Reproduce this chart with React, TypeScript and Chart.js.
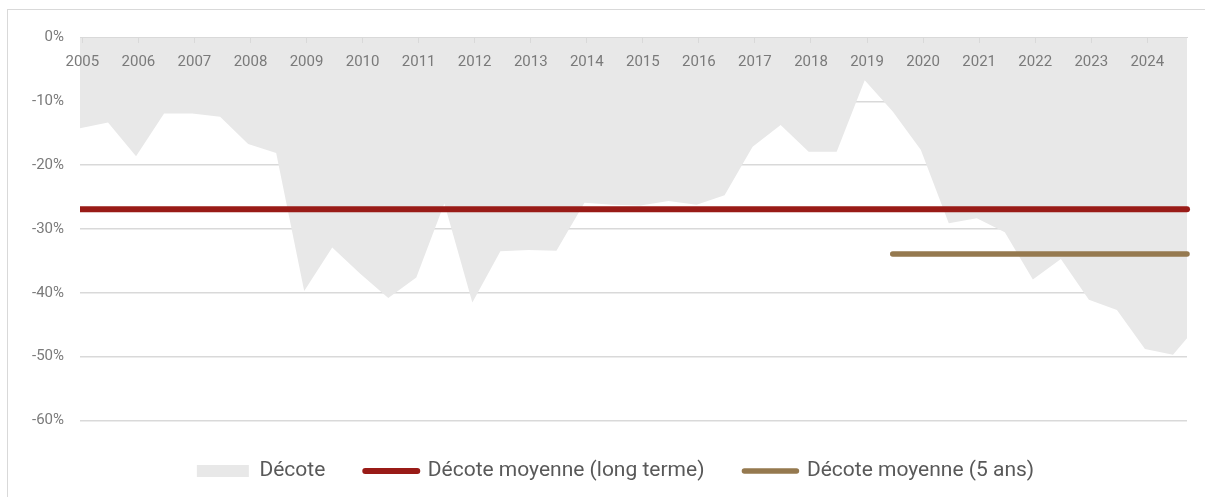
import React, { useEffect, useRef } from 'react';
import { Chart, registerables } from 'chart.js';

Chart.register(...registerables);

// Semi-annual observation dates (YYYY-MM)
const periods: string[] = [
  '2004-12',
  '2005-06', '2005-12', '2006-06', '2006-12', '2007-06', '2007-12',
  '2008-06', '2008-12', '2009-06', '2009-12', '2010-06', '2010-12',
  '2011-06', '2011-12', '2012-06', '2012-12', '2013-06', '2013-12',
  '2014-06', '2014-12', '2015-06', '2015-12', '2016-06', '2016-12',
  '2017-06', '2017-12', '2018-06', '2018-12', '2019-06', '2019-12',
  '2020-06', '2020-12', '2021-06', '2021-12', '2022-06', '2022-12',
  '2023-06', '2023-12', '2024-06', '2024-09',
];

// Décote (%)
const decote: number[] = [
  -14.2,
  -13.3, -18.6, -11.9, -11.9, -12.4, -16.7,
  -18.1, -39.7, -32.9, -37.0, -40.8, -37.6,
  -26.0, -41.5, -33.5, -33.3, -33.4, -25.9,
  -26.2, -26.3, -25.6, -26.2, -24.7, -17.1,
  -13.7, -17.9, -17.9, -6.7, -11.6, -17.6,
  -29.1, -28.3, -30.5, -37.9, -34.7, -41.1,
  -42.7, -48.8, -49.7, -47.1,
];

const avgLongTerm = -26.9;
const avgFiveYears = -33.9;
const fiveYearStart = '2019-06';

const seriesLabels = ['Décote', 'Décote moyenne (long terme)', 'Décote moyenne (5 ans)'];
const seriesColors = ['#e8e8e8', '#991b17', '#95794f'];

const yMin = -60;
const yMax = 0;
const yStep = 10;

const toYear = (p: string) => {
  const [y, m] = p.split('-').map(Number);
  return y + (m - 0.5) / 12;
};

const FONT = 'Roboto, "Liberation Sans", sans-serif';

// shifts the centred legend row to sit under the plot like the original
const legendShift = {
  id: 'legendShift',
  afterLayout(chart: any) {
    const l = chart.legend;
    if (l) {
      l.left += 18;
      l.right += 18;
    }
  },
};

export default function App() {
  const canvasRef = useRef<HTMLCanvasElement | null>(null);

  useEffect(() => {
    if (!canvasRef.current) return;
    const first = periods[0];
    const last = periods[periods.length - 1];

    const areaData = periods.map((p, i) => ({ x: toYear(p), y: decote[i] }));
    const longData = [
      { x: toYear(first), y: avgLongTerm },
      { x: toYear(last), y: avgLongTerm },
    ];
    const fiveData = [
      { x: toYear(fiveYearStart), y: avgFiveYears },
      { x: toYear(last), y: avgFiveYears },
    ];

    const chart = new Chart(canvasRef.current, {
      type: 'line',
      data: {
        datasets: [
          {
            label: seriesLabels[0],
            data: areaData,
            fill: 'origin',
            backgroundColor: seriesColors[0],
            borderColor: seriesColors[0],
            borderWidth: 0,
            pointRadius: 0,
            tension: 0,
            order: 3,
          },
          {
            label: seriesLabels[1],
            data: longData,
            fill: false,
            borderColor: seriesColors[1],
            backgroundColor: seriesColors[1],
            borderWidth: 6,
            borderCapStyle: 'round',
            pointRadius: 0,
            order: 1,
            clip: { left: 0, right: 5, top: 5, bottom: 5 },
          },
          {
            label: seriesLabels[2],
            data: fiveData,
            fill: false,
            borderColor: seriesColors[2],
            backgroundColor: seriesColors[2],
            borderWidth: 5.5,
            borderCapStyle: 'round',
            pointRadius: 0,
            order: 2,
            clip: { left: 5, right: 5, top: 5, bottom: 5 },
          },
        ],
      } as any,
      options: {
        animation: false,
        responsive: true,
        maintainAspectRatio: false,
        layout: { padding: { left: 0, right: 18, top: 27.5, bottom: 5.5 } },
        scales: {
          x: {
            type: 'linear',
            position: { y: 0 } as any,
            min: toYear(first),
            max: toYear(last),
            grid: {
              display: true,
              drawOnChartArea: false,
              drawTicks: true,
              tickLength: 5,
              color: '#d9d9d9',
              z: 1,
            },
            border: { display: true, color: '#d9d9d9', width: 1, z: 1 },
            ticks: {
              stepSize: 1,
              includeBounds: false,
              autoSkip: false,
              maxRotation: 0,
              padding: 11,
              color: '#7a7a7a',
              font: { family: FONT, size: 15 },
              callback: (v: any) => String(v),
              z: 1,
            },
          } as any,
          y: {
            min: yMin,
            max: yMax,
            ticks: {
              stepSize: yStep,
              padding: 16,
              color: '#7a7a7a',
              font: { family: FONT, size: 15 },
              callback: (v: any) => `${v}%`,
            },
            grid: { color: '#d9d9d9', lineWidth: 1.5, drawTicks: false },
            border: { display: false },
            afterFit: (s: any) => {
              s.width = 72;
            },
          } as any,
        },
        plugins: {
          legend: {
            position: 'bottom',
            labels: {
              usePointStyle: true,
              pointStyleWidth: 52,
              boxHeight: 12,
              padding: 40,
              color: '#595959',
              font: { family: FONT, size: 21 },
              generateLabels: (c: any) =>
                c.data.datasets.map((ds: any, i: number) => ({
                  text: ds.label,
                  fillStyle: seriesColors[i],
                  strokeStyle: seriesColors[i],
                  lineWidth: i === 0 ? 0 : ds.borderWidth,
                  lineCap: 'round',
                  pointStyle: i === 0 ? 'rect' : 'line',
                  hidden: false,
                  datasetIndex: i,
                  fontColor: '#595959',
                })),
            },
          },
          tooltip: { enabled: false },
        },
      } as any,
      plugins: [legendShift],
    });

    return () => chart.destroy();
  }, []);

  return (
    <div
      style={{
        position: 'fixed',
        top: 9,
        left: 7,
        width: 1198,
        height: 488,
        boxSizing: 'border-box',
        borderTop: '1px solid #d9d9d9',
        borderLeft: '1px solid #d9d9d9',
        overflow: 'hidden',
        background: '#ffffff',
      }}
    >
      <div style={{ position: 'relative', width: 1197, height: 487 }}>
        <canvas ref={canvasRef} />
      </div>
    </div>
  );
}
